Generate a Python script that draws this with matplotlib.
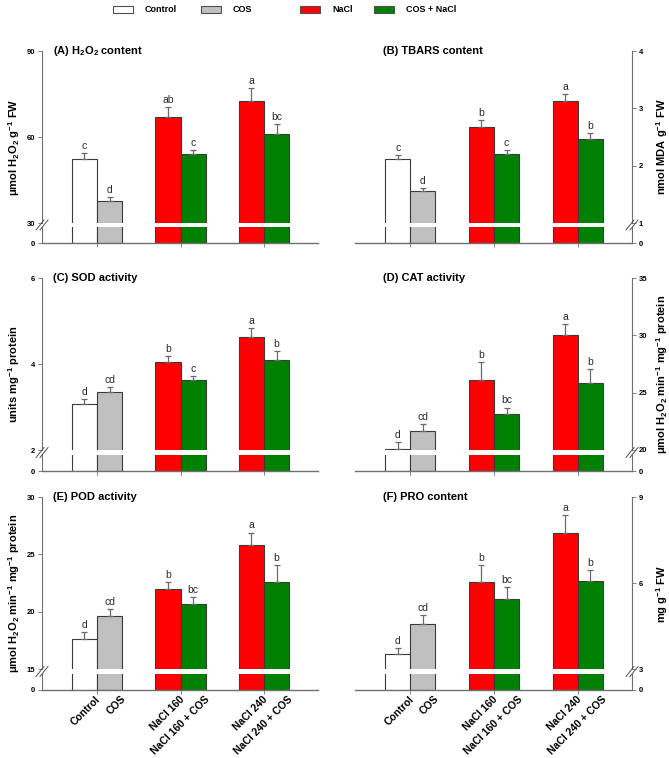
import numpy as np
import matplotlib
matplotlib.use('Agg')
import matplotlib.pyplot as plt
import matplotlib.transforms as mtransforms
from matplotlib.patches import Rectangle
from matplotlib.lines import Line2D

plt.rcParams['font.family'] = ['Liberation Sans', 'DejaVu Sans']
plt.rcParams['mathtext.fontset'] = 'custom'
plt.rcParams['mathtext.rm'] = 'Liberation Sans:bold'
plt.rcParams['mathtext.it'] = 'Liberation Sans:bold'
plt.rcParams['mathtext.bf'] = 'Liberation Sans:bold'
plt.rcParams['mathtext.default'] = 'rm'

# treatments, two bars per group
treatments = ['Control', 'COS', 'NaCl 160', 'NaCl 160 + COS', 'NaCl 240', 'NaCl 240 + COS']
groups = [0, 0, 1, 1, 2, 2]
bar_colors = ['white', '#c0c0c0', '#ff0000', '#008000', '#ff0000', '#008000']
legend_labels = ['Control', 'COS', 'NaCl', 'COS + NaCl']
legend_colors = ['white', '#c0c0c0', '#ff0000', '#008000']

# (A) H2O2
h2o2 = [52.3, 37.6, 67.0, 54.1, 72.4, 61.2]
h2o2_err = [2.2, 1.4, 3.4, 1.3, 4.6, 3.3]
h2o2_let = ['c', 'd', 'ab', 'c', 'a', 'bc']
# (B) TBARS
tbars = [2.12, 1.56, 2.68, 2.20, 3.12, 2.47]
tbars_err = [0.06, 0.05, 0.11, 0.07, 0.13, 0.10]
tbars_let = ['c', 'd', 'b', 'c', 'a', 'b']
# (C) SOD
sod = [3.06, 3.34, 4.05, 3.63, 4.62, 4.10]
sod_err = [0.12, 0.12, 0.13, 0.10, 0.21, 0.20]
sod_let = ['d', 'cd', 'b', 'c', 'a', 'b']
# (D) CAT
cat = [20.1, 21.7, 26.1, 23.1, 30.0, 25.8]
cat_err = [0.6, 0.6, 1.6, 0.6, 1.0, 1.3]
cat_let = ['d', 'cd', 'b', 'bc', 'a', 'b']
# (E) POD
pod = [17.6, 19.6, 22.0, 20.65, 25.8, 22.6]
pod_err = [0.6, 0.6, 0.6, 0.65, 1.1, 1.5]
pod_let = ['d', 'cd', 'b', 'bc', 'a', 'b']
# (F) PRO
pro = [3.51, 4.58, 6.03, 5.45, 7.75, 6.07]
pro_err = [0.21, 0.31, 0.59, 0.42, 0.62, 0.37]
pro_let = ['d', 'cd', 'b', 'bc', 'a', 'b']

W, H = 669, 758
fig = plt.figure(figsize=(W / 100, H / 100), dpi=100)


def fig_rect(x0, x1, ytop, ybot):
    return [x0 / W, 1 - ybot / H, (x1 - x0) / W, (ybot - ytop) / H]


# pixel layout: (top, break top, break bottom, zero) per row; (left, right) per column
rows = [(51, 223, 227, 243), (278, 450, 455, 471), (497, 669, 674, 690)]
cols = [(42, 318), (355, 632)]
axis_col = '#707070'
bw = 0.3
xpos = np.array(groups) + np.array([-0.15, 0.15] * 3)


def draw_panel(col, row, vals, errs, lets, lo, hi, ticks, ylabel, title, xlabels=False):
    x0, x1 = cols[col]
    yt, yb, yb2, y0 = rows[row]
    ax_t = fig.add_axes(fig_rect(x0, x1, yt, yb))
    ax_b = fig.add_axes(fig_rect(x0, x1, yb2, y0))
    side = 'left' if col == 0 else 'right'
    for ax in (ax_t, ax_b):
        ax.bar(xpos, vals, width=bw, color=bar_colors, edgecolor='#3a3a3a', linewidth=0.8)
        ax.set_xlim(-0.659, 2.647)
        for s in ax.spines.values():
            s.set_visible(False)
        ax.spines[side].set_visible(True)
        ax.spines[side].set_color(axis_col)
        ax.spines[side].set_linewidth(0.8)
        if col == 1:
            ax.yaxis.tick_right()
        ax.tick_params(axis='y', direction='out', length=3, width=0.6, color=axis_col,
                       labelsize=5.5, pad=2)
    ax_t.set_ylim(lo, hi)
    ax_b.set_ylim(0, 1)
    ax_t.set_yticks(ticks)
    ax_t.set_yticklabels([str(t) for t in ticks], fontweight='bold')
    ax_b.set_yticks([0])
    ax_b.set_yticklabels(['0'], fontweight='bold')
    ax_t.set_xticks([])
    ax_b.set_xticks([0, 1, 2])
    ax_b.set_xticklabels([])
    ax_b.spines['bottom'].set_visible(True)
    ax_b.spines['bottom'].set_color(axis_col)
    ax_b.spines['bottom'].set_linewidth(1.0)
    ax_b.tick_params(axis='x', direction='out', length=3, width=0.6, color=axis_col)

    ax_t.errorbar(xpos, vals, yerr=[np.zeros(6), errs], fmt='none', ecolor='#6a6a6a',
                  elinewidth=0.9, capsize=2, capthick=0.9, clip_on=False)
    for x, v, e, l in zip(xpos, vals, errs, lets):
        ax_t.annotate(l, (x, v + e), xytext=(0, 1.5), textcoords='offset points',
                      ha='center', va='bottom', fontsize=7.5, color='#2a2a2a')

    # break marks on the y axis
    xs = x0 if col == 0 else x1
    yc = (yb + yb2) / 2
    for dx in (-2, 2):
        fig.add_artist(Line2D([(xs + dx - 4) / W, (xs + dx + 4) / W],
                              [1 - (yc + 5) / H, 1 - (yc - 5) / H],
                              transform=fig.transFigure, color='#505050', lw=0.7))

    toff = 11 if col == 0 else 28
    fig.text((x0 + toff) / W, 1 - yt / H, title, ha='left', va='center',
             fontsize=8, fontweight='bold')
    lx = 14 if col == 0 else 662
    fig.text(lx / W, 1 - (yt + y0) / 2 / H, ylabel, rotation=90, ha='center', va='center',
             fontsize=8, fontweight='bold')

    if xlabels:
        trans = mtransforms.blended_transform_factory(ax_b.transData, ax_b.transAxes) + \
            mtransforms.ScaledTranslation(0.11, -0.04, fig.dpi_scale_trans)
        for x, lab in zip(xpos, treatments):
            ax_b.text(x, 0, lab, transform=trans, rotation=45, rotation_mode='anchor',
                      ha='right', va='top', fontsize=7.5, fontweight='bold')


draw_panel(0, 0, h2o2, h2o2_err, h2o2_let, 30, 90, [30, 60, 90],
           r'μmol H$_2$O$_2$ g$^{-1}$ FW', r'(A) H$_2$O$_2$ content')
draw_panel(1, 0, tbars, tbars_err, tbars_let, 1, 4, [1, 2, 3, 4],
           r'nmol MDA g$^{-1}$ FW', '(B) TBARS content')
draw_panel(0, 1, sod, sod_err, sod_let, 2, 6, [2, 4, 6],
           r'units mg$^{-1}$ protein', '(C) SOD activity')
draw_panel(1, 1, cat, cat_err, cat_let, 20, 35, [20, 25, 30, 35],
           r'μmol H$_2$O$_2$ min$^{-1}$ mg$^{-1}$ protein', '(D) CAT activity')
draw_panel(0, 2, pod, pod_err, pod_let, 15, 30, [15, 20, 25, 30],
           r'μmol H$_2$O$_2$ min$^{-1}$ mg$^{-1}$ protein', '(E) POD activity', xlabels=True)
draw_panel(1, 2, pro, pro_err, pro_let, 3, 9, [3, 6, 9],
           r'mg g$^{-1}$ FW', '(F) PRO content', xlabels=True)

# legend across the top
leg_x = [113, 201, 300, 374]
for x, lab, c in zip(leg_x, legend_labels, legend_colors):
    fig.add_artist(Rectangle((x / W, 1 - 13 / H), 20 / W, 7 / H, transform=fig.transFigure,
                             facecolor=c, edgecolor='#505050', linewidth=0.8))
    fig.text((x + 32) / W, 1 - 9.5 / H, lab, ha='left', va='center',
             fontsize=6.5, fontweight='bold', stretch='condensed')

fig.savefig('out.png', dpi=100)
